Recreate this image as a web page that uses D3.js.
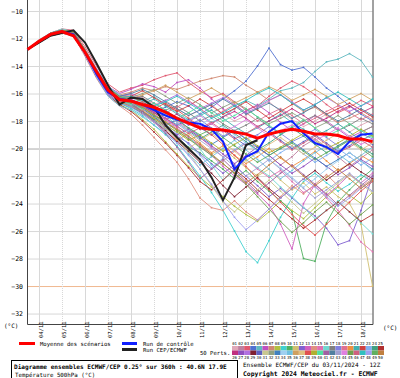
<!DOCTYPE html>
<html>
<head>
<meta charset="utf-8">
<script src="https://cdn.jsdelivr.net/npm/d3@7"></script>
<style>
  html, body { margin: 0; padding: 0; background: #fff; }
  svg { display: block; }
  text { font-family: "DejaVu Sans Mono", monospace; fill: #000; }
</style>
</head>
<body>
<div id="chart"></div>
<script>
// Forecast hours (12h steps, run 03/11 12Z)
const hours = d3.range(0, 361, 12);
const dayLabels = ["04/11", "05/11", "06/11", "07/11", "08/11", "09/11", "10/11", "11/11",
  "12/11", "13/11", "14/11", "15/11", "16/11", "17/11", "18/11"];
const dayHours = [12, 36, 60, 84, 108, 132, 156, 180, 204, 228, 252, 276, 300, 324, 348];
const yTicks = [-10, -12, -14, -16, -18, -20, -22, -24, -26, -28, -30, -32];

const meanValues = [-12.8, -12.2, -11.7, -11.5, -11.8, -13.0, -14.4, -15.75, -16.45, -16.55, -16.8,
  -17.0, -17.35, -17.8, -18.15, -18.5, -18.6, -18.65, -18.8, -18.95, -19.25, -18.95, -18.75,
  -18.6, -18.75, -18.95, -18.95, -19.05, -19.3, -19.3, -19.5];
const controlValues = [-12.8, -12.2, -11.7, -11.5, -11.7, -13.0, -14.6, -15.9, -16.4, -16.5, -16.8,
  -17.2, -17.6, -17.9, -18.1, -18.2, -18.6, -19.5, -21.5, -20.6, -20.2, -18.8, -18.2,
  -18.0, -18.9, -19.6, -19.9, -20.4, -19.5, -19.0, -18.9];
// deterministic run only goes to 240h
const cepValues = [-12.8, -12.3, -11.8, -11.6, -11.4, -12.3, -13.8, -15.4, -16.8, -16.3, -16.4,
  -17.0, -18.3, -19.2, -20.0, -20.8, -22.1, -23.75, -22.1, -19.75, -19.4];

const perts = [
  [-12.8,-12.3,-11.8,-11.6,-11.5,-12.9,-14.3,-15.6,-16.2,-16.0,-16.3,-16.8,-16.5,-17.1,-17.6,-17.2,-16.8,-17.5,-18.0,-17.6,-17.0,-16.6,-17.3,-17.9,-18.4,-18.0,-17.5,-18.2,-18.8,-18.3,-17.9],
  [-12.8,-12.2,-11.7,-11.4,-11.6,-13.1,-14.6,-15.9,-16.6,-16.9,-17.4,-18.0,-18.6,-19.4,-20.1,-20.8,-21.5,-20.9,-20.2,-19.6,-19.9,-20.5,-21.2,-20.6,-19.8,-19.3,-19.9,-20.6,-21.3,-20.7,-20.1],
  [-12.8,-12.1,-11.6,-11.3,-11.4,-12.6,-14.0,-15.3,-15.9,-15.6,-15.4,-15.0,-14.7,-14.5,-15.2,-15.8,-16.3,-16.0,-16.6,-17.2,-16.9,-16.2,-15.6,-15.1,-15.5,-16.1,-16.8,-17.4,-17.0,-16.5,-16.9],
  [-12.8,-12.3,-11.8,-11.5,-11.7,-13.0,-14.4,-15.7,-16.3,-16.6,-17.0,-17.3,-17.0,-16.6,-16.9,-17.5,-17.0,-16.4,-15.8,-15.1,-14.0,-12.7,-13.9,-14.3,-14.1,-14.8,-15.6,-16.2,-16.9,-17.5,-18.0],
  [-12.8,-12.2,-11.7,-11.5,-11.8,-13.2,-14.7,-16.0,-16.7,-17.0,-16.6,-16.2,-16.8,-17.4,-17.9,-17.5,-18.1,-17.7,-17.1,-16.5,-16.9,-16.4,-15.8,-15.6,-15.2,-14.4,-13.7,-13.5,-13.1,-13.6,-14.8],
  [-12.8,-12.2,-11.6,-11.4,-11.5,-12.8,-14.2,-15.5,-16.0,-15.7,-15.3,-15.5,-15.9,-15.2,-15.0,-15.6,-16.4,-17.1,-17.8,-17.3,-16.8,-17.4,-18.1,-18.7,-18.2,-17.6,-18.0,-18.6,-19.2,-18.8,-18.4],
  [-12.8,-12.3,-11.7,-11.5,-11.6,-12.9,-14.4,-15.6,-16.1,-15.9,-15.6,-15.8,-15.5,-15.7,-15.4,-15.1,-14.9,-14.7,-14.8,-15.4,-15.9,-16.5,-16.1,-16.7,-17.3,-17.0,-17.6,-18.1,-17.8,-17.4,-17.9],
  [-12.8,-12.2,-11.8,-11.6,-11.8,-13.2,-14.8,-16.1,-16.8,-17.2,-17.9,-18.6,-19.5,-20.4,-21.3,-22.1,-22.8,-23.5,-24.2,-24.8,-25.3,-24.6,-23.8,-24.5,-25.1,-24.3,-23.5,-22.8,-23.4,-24.0,-23.2],
  [-12.8,-12.2,-11.7,-11.5,-11.7,-13.1,-14.6,-16.0,-16.7,-17.1,-17.6,-18.3,-19.0,-19.8,-20.9,-22.0,-23.2,-24.5,-26.0,-27.5,-28.3,-26.7,-25.0,-23.6,-22.4,-21.8,-22.5,-23.1,-22.6,-21.9,-22.4],
  [-12.8,-12.3,-11.8,-11.6,-11.7,-13.0,-14.5,-15.8,-16.5,-16.8,-17.3,-17.9,-18.5,-19.2,-19.9,-20.3,-20.9,-21.5,-22.2,-21.6,-22.4,-23.1,-23.8,-24.6,-28.0,-28.2,-25.4,-23.9,-23.0,-22.2,-21.5],
  [-12.8,-12.2,-11.7,-11.4,-11.6,-13.0,-14.5,-15.8,-16.4,-16.7,-17.1,-17.6,-18.0,-18.6,-19.3,-19.8,-20.4,-20.0,-20.7,-21.4,-22.0,-21.5,-22.3,-23.0,-22.5,-23.3,-22.8,-23.5,-24.0,-25.5,-30.0],
  [-12.8,-12.3,-11.8,-11.5,-11.7,-13.1,-14.7,-16.0,-16.6,-16.9,-17.3,-17.8,-18.4,-19.1,-19.6,-20.4,-21.1,-21.8,-21.2,-22.0,-22.7,-23.5,-22.9,-23.6,-24.3,-24.9,-25.8,-27.0,-26.7,-24.5,-22.0],
  [-12.8,-12.2,-11.6,-11.4,-11.6,-12.9,-14.4,-15.7,-16.3,-16.5,-16.9,-17.4,-17.9,-18.5,-19.2,-19.8,-20.5,-21.3,-22.0,-22.6,-23.3,-24.1,-25.5,-27.3,-24.0,-22.6,-23.4,-22.7,-21.9,-22.5,-21.8],
  [-12.8,-12.3,-11.7,-11.5,-11.8,-13.3,-14.9,-16.2,-16.9,-17.5,-18.3,-19.2,-20.1,-21.0,-22.2,-23.6,-24.3,-24.5,-23.8,-24.6,-25.2,-24.4,-23.5,-22.7,-23.3,-22.6,-21.9,-22.7,-23.5,-22.8,-22.2],
  [-12.8,-12.2,-11.7,-11.5,-11.7,-13.0,-14.5,-15.9,-16.5,-16.8,-17.2,-17.7,-18.2,-18.0,-18.6,-19.2,-19.9,-20.6,-20.1,-20.8,-21.5,-22.1,-21.6,-22.4,-23.2,-22.7,-23.6,-24.5,-25.6,-26.8,-27.5],
  [-12.8,-12.1,-11.6,-11.3,-11.5,-12.8,-14.2,-15.5,-16.1,-16.3,-16.6,-17.0,-17.6,-18.3,-19.1,-20.0,-21.2,-22.3,-21.6,-20.8,-21.4,-22.0,-22.8,-23.5,-24.3,-25.1,-24.5,-23.8,-24.6,-25.4,-26.2],
  [-12.8,-12.3,-11.8,-11.6,-11.6,-12.9,-14.4,-15.7,-16.3,-16.4,-16.2,-16.7,-17.2,-16.9,-17.4,-18.0,-17.6,-18.2,-18.7,-18.3,-17.8,-18.4,-18.9,-18.5,-18.0,-17.6,-18.1,-18.7,-18.3,-17.8,-18.2],
  [-12.8,-12.2,-11.7,-11.5,-11.7,-13.1,-14.6,-15.9,-16.5,-16.7,-17.0,-17.5,-17.2,-17.8,-18.3,-17.9,-18.5,-19.1,-18.7,-19.3,-19.0,-18.4,-18.9,-19.5,-19.1,-18.6,-19.2,-19.8,-19.4,-18.9,-19.3],
  [-12.8,-12.3,-11.7,-11.4,-11.5,-12.8,-14.3,-15.6,-16.2,-16.1,-16.5,-16.9,-17.4,-17.0,-16.5,-17.1,-17.7,-17.3,-16.8,-17.4,-18.0,-17.5,-17.1,-17.6,-18.2,-17.8,-17.3,-16.9,-17.4,-17.9,-17.5],
  [-12.8,-12.2,-11.8,-11.6,-11.8,-13.2,-14.7,-16.0,-16.6,-16.9,-17.5,-18.1,-18.8,-19.4,-18.9,-19.6,-20.3,-19.8,-20.5,-21.1,-20.6,-20.0,-20.7,-21.3,-20.8,-20.2,-20.9,-21.6,-21.1,-20.5,-21.0],
  [-12.8,-12.2,-11.7,-11.5,-11.6,-12.9,-14.4,-15.7,-16.3,-16.5,-16.8,-16.4,-16.9,-17.5,-18.0,-17.6,-17.2,-17.8,-18.4,-18.9,-18.5,-18.0,-17.5,-18.1,-18.6,-19.1,-18.7,-18.2,-18.8,-19.4,-19.0],
  [-12.8,-12.3,-11.8,-11.5,-11.7,-13.0,-14.6,-15.9,-16.5,-16.2,-15.8,-16.3,-16.8,-17.3,-16.9,-16.4,-16.9,-17.5,-17.1,-16.6,-17.2,-17.8,-17.3,-16.8,-16.4,-16.9,-17.5,-17.1,-16.7,-17.2,-17.7],
  [-12.8,-12.2,-11.6,-11.4,-11.5,-12.8,-14.2,-15.5,-16.1,-16.4,-16.9,-17.5,-18.2,-18.9,-19.7,-20.5,-21.4,-20.7,-20.1,-19.5,-20.2,-20.9,-20.3,-19.8,-20.4,-21.0,-20.5,-20.0,-20.6,-21.2,-20.7],
  [-12.8,-12.3,-11.7,-11.5,-11.7,-13.1,-14.7,-16.0,-16.7,-17.0,-17.4,-17.9,-17.5,-18.1,-18.7,-19.3,-18.8,-18.3,-18.9,-19.5,-20.1,-19.6,-19.0,-18.5,-19.1,-19.7,-20.3,-19.8,-19.3,-19.9,-20.4],
  [-12.8,-12.2,-11.7,-11.6,-11.8,-13.2,-14.8,-16.1,-16.8,-17.3,-18.0,-18.8,-19.6,-20.5,-21.4,-22.4,-23.0,-22.3,-21.5,-22.2,-23.0,-23.7,-24.4,-25.1,-25.8,-25.2,-24.5,-23.9,-24.6,-25.3,-24.8],
  [-12.8,-12.2,-11.7,-11.5,-11.6,-12.9,-14.4,-15.7,-16.3,-16.6,-16.9,-17.4,-17.9,-17.5,-18.1,-18.6,-18.2,-17.7,-17.3,-17.8,-18.4,-18.0,-17.6,-17.1,-17.6,-18.2,-17.8,-17.3,-16.9,-17.4,-17.0],
  [-12.8,-12.3,-11.8,-11.6,-11.7,-13.0,-14.5,-15.8,-16.4,-16.8,-17.3,-17.8,-18.4,-19.0,-18.6,-19.2,-19.8,-20.4,-21.1,-20.5,-19.9,-20.5,-21.2,-21.8,-21.3,-20.7,-21.3,-21.9,-21.4,-20.8,-21.3],
  [-12.8,-12.2,-11.7,-11.4,-11.5,-12.8,-14.3,-15.6,-16.2,-16.0,-16.4,-16.9,-16.5,-16.1,-16.6,-17.1,-16.7,-16.3,-16.8,-17.4,-17.0,-16.5,-16.1,-16.6,-17.2,-16.8,-16.3,-16.8,-17.3,-16.9,-16.5],
  [-12.8,-12.3,-11.7,-11.5,-11.7,-13.1,-14.6,-15.9,-16.5,-16.9,-17.4,-18.0,-18.7,-19.5,-20.2,-21.0,-21.8,-22.7,-23.5,-22.8,-22.1,-22.9,-23.6,-22.9,-22.2,-21.6,-22.3,-21.7,-21.1,-21.7,-22.2],
  [-12.8,-12.2,-11.8,-11.6,-11.8,-13.2,-14.8,-16.1,-16.7,-16.5,-16.9,-17.3,-17.8,-18.3,-17.9,-18.5,-19.0,-18.6,-19.2,-19.8,-19.3,-18.8,-19.4,-20.0,-19.5,-19.0,-19.6,-20.2,-19.8,-19.2,-19.7],
  [-12.8,-12.2,-11.7,-11.5,-11.6,-12.9,-14.3,-15.6,-16.2,-16.5,-17.0,-17.6,-18.3,-19.2,-20.3,-21.5,-22.7,-23.9,-24.6,-23.8,-23.0,-22.3,-23.1,-23.9,-24.7,-24.0,-23.2,-22.5,-21.9,-22.6,-23.2],
  [-12.8,-12.3,-11.8,-11.5,-11.7,-13.0,-14.5,-15.8,-16.4,-16.3,-16.0,-15.7,-16.2,-16.7,-16.3,-16.8,-17.4,-17.0,-16.6,-17.1,-17.7,-18.2,-17.8,-17.4,-17.9,-18.5,-18.1,-17.6,-18.2,-18.8,-18.4],
  [-12.8,-12.2,-11.6,-11.4,-11.6,-12.9,-14.4,-15.7,-16.3,-16.6,-17.1,-17.7,-18.3,-17.9,-18.5,-19.1,-19.7,-19.2,-18.7,-19.3,-19.9,-20.5,-20.0,-19.5,-20.1,-20.7,-21.3,-20.8,-20.3,-20.9,-21.5],
  [-12.8,-12.2,-11.7,-11.5,-11.7,-13.1,-14.6,-15.9,-16.5,-16.8,-16.5,-17.0,-17.5,-18.1,-18.7,-18.3,-17.8,-18.4,-19.0,-19.6,-20.2,-20.8,-21.4,-22.1,-22.8,-22.2,-21.5,-20.9,-20.3,-20.9,-21.6],
  [-12.8,-12.3,-11.8,-11.6,-11.8,-13.2,-14.8,-16.2,-16.9,-17.2,-17.7,-18.3,-18.9,-19.6,-20.4,-21.2,-20.6,-20.0,-19.4,-20.1,-20.8,-21.5,-22.2,-21.6,-20.9,-20.3,-19.8,-20.4,-21.0,-20.5,-19.9],
  [-12.8,-12.2,-11.7,-11.4,-11.5,-12.8,-14.3,-15.6,-16.2,-16.4,-16.1,-15.8,-15.4,-15.9,-16.4,-16.0,-15.6,-16.1,-16.7,-16.3,-15.9,-15.5,-15.9,-16.5,-16.1,-15.7,-16.2,-16.8,-16.4,-16.0,-16.5],
  [-12.8,-12.2,-11.7,-11.5,-11.7,-13.0,-14.5,-15.8,-16.4,-16.7,-17.2,-17.8,-18.5,-19.3,-20.0,-19.4,-18.9,-19.5,-20.2,-20.9,-20.3,-19.7,-19.2,-19.8,-20.4,-19.9,-19.4,-18.9,-19.5,-20.1,-19.6],
  [-12.8,-12.3,-11.7,-11.5,-11.6,-12.9,-14.4,-15.7,-16.3,-16.2,-16.6,-17.1,-16.7,-17.2,-17.8,-18.4,-19.0,-19.7,-20.5,-21.3,-22.2,-23.0,-23.9,-24.8,-25.6,-26.3,-25.5,-24.7,-23.9,-23.1,-22.4],
  [-12.8,-12.2,-11.8,-11.6,-11.8,-13.2,-14.7,-16.0,-16.6,-16.9,-17.3,-17.8,-18.3,-18.8,-19.4,-19.0,-19.6,-20.2,-19.7,-19.2,-19.8,-20.3,-19.9,-19.4,-18.9,-19.4,-20.0,-19.6,-19.1,-18.6,-19.1],
  [-12.8,-12.2,-11.7,-11.5,-11.7,-13.0,-14.6,-15.9,-16.5,-16.8,-17.1,-16.7,-17.2,-17.8,-17.4,-16.9,-17.4,-18.0,-17.6,-17.1,-17.7,-18.3,-18.9,-18.4,-17.9,-18.5,-19.1,-18.7,-18.2,-18.7,-19.2],
  [-12.8,-12.3,-11.8,-11.5,-11.6,-12.9,-14.4,-15.7,-16.3,-16.7,-17.3,-18.0,-18.9,-19.9,-21.0,-22.2,-21.5,-20.8,-21.6,-22.4,-23.2,-22.5,-21.8,-21.2,-21.9,-22.6,-23.3,-24.1,-23.4,-22.7,-22.0],
  [-12.8,-12.2,-11.6,-11.4,-11.6,-12.9,-14.3,-15.6,-16.2,-16.0,-15.7,-16.1,-16.6,-17.1,-17.6,-17.2,-16.8,-16.4,-16.9,-17.5,-17.1,-16.7,-17.2,-17.8,-17.4,-16.9,-17.5,-18.0,-17.6,-17.1,-17.6],
  [-12.8,-12.2,-11.7,-11.5,-11.7,-13.1,-14.6,-15.9,-16.5,-16.9,-17.4,-18.0,-18.6,-18.2,-18.8,-19.4,-20.0,-20.6,-21.3,-22.0,-21.4,-20.8,-21.5,-22.2,-22.9,-23.6,-23.0,-22.4,-21.8,-22.5,-23.1],
  [-12.8,-12.3,-11.8,-11.6,-11.8,-13.2,-14.7,-16.0,-16.6,-16.4,-16.8,-17.3,-17.9,-18.4,-18.0,-17.6,-18.2,-18.8,-18.4,-17.9,-18.5,-19.1,-18.7,-18.3,-18.8,-19.4,-19.0,-18.5,-19.1,-19.7,-19.3],
  [-12.8,-12.2,-11.7,-11.4,-11.5,-12.8,-14.3,-15.6,-16.2,-16.5,-17.0,-17.6,-18.1,-18.7,-19.3,-19.9,-20.5,-21.1,-21.8,-22.6,-23.5,-24.4,-25.3,-26.1,-25.4,-24.6,-23.9,-24.7,-25.5,-24.8,-24.1],
  [-12.8,-12.2,-11.7,-11.5,-11.7,-13.0,-14.5,-15.8,-16.4,-16.6,-16.9,-17.3,-17.8,-18.4,-18.9,-18.5,-18.1,-18.7,-19.3,-18.9,-18.4,-18.9,-19.5,-20.1,-19.6,-19.1,-19.7,-20.3,-19.9,-19.4,-19.9],
  [-12.8,-12.3,-11.7,-11.5,-11.6,-12.9,-14.4,-15.7,-16.3,-16.2,-16.5,-16.9,-16.6,-16.2,-16.7,-17.2,-17.8,-17.4,-16.9,-16.5,-16.0,-15.6,-16.1,-16.7,-17.2,-16.8,-16.3,-15.9,-16.4,-16.9,-16.4],
  [-12.8,-12.2,-11.8,-11.6,-11.8,-13.2,-14.8,-16.1,-16.7,-17.0,-17.5,-18.1,-18.8,-19.6,-20.5,-21.5,-22.6,-23.8,-25.0,-25.9,-25.2,-24.4,-23.6,-22.9,-22.2,-22.8,-23.5,-24.2,-23.6,-22.9,-22.3],
  [-12.8,-12.2,-11.7,-11.5,-11.7,-13.1,-14.6,-15.9,-16.5,-16.7,-16.4,-16.9,-17.4,-17.9,-18.5,-19.0,-18.6,-19.2,-19.8,-20.4,-21.0,-20.5,-20.0,-19.6,-20.2,-20.8,-20.3,-19.9,-19.4,-20.0,-20.6],
  [-12.8,-12.2,-11.6,-11.4,-11.6,-12.9,-14.4,-15.7,-16.3,-16.6,-17.0,-17.5,-18.1,-18.6,-19.1,-19.7,-20.4,-21.1,-21.8,-22.5,-21.9,-21.2,-20.6,-21.3,-22.0,-22.7,-22.1,-21.5,-22.2,-22.9,-22.3]
];

const pertColors = [
  "#e0a8b8", "#c080a0", "#e05870", "#5070d0", "#60b8c0", "#c050c0", "#d08870", "#b0c040",
  "#40d0d0", "#50b060", "#d0c070", "#8060d0", "#d060c0", "#e09080", "#e070b0", "#70d8d0",
  "#808080", "#8080e0", "#e07090", "#f09040", "#40b0b0", "#d04040", "#80b0f0", "#40a080",
  "#b03030", "#c03080", "#9050c0", "#b070e0", "#802030", "#6060c0", "#c8c890", "#90a080",
  "#4080c0", "#a0d0f0", "#70c0e0", "#d0a060", "#e0c080", "#e05050", "#b0b030", "#50e0a0",
  "#a060a0", "#5080a0", "#a0a0d0", "#e080e0", "#70a050", "#d06080", "#30c0c0", "#a0a0f0",
  "#60b060", "#c08040"
];

// Set up
const W = 400, H = 378;
const xScale = d3.scaleLinear().domain([0, 360]).range([27.5, 372.5]);
const yScale = d3.scaleLinear().domain([-32.76, -9.2]).range([324, 0]);

const svg = d3.select("#chart").append("svg").attr("width", W).attr("height", H);
svg.append("rect").attr("width", W).attr("height", H).attr("fill", "#fff");

// Grid
const gGrid = svg.append("g");
gGrid.selectAll(".hgrid")
  .data(yTicks)
  .join("line")
  .attr("x1", 27.5).attr("x2", 372.5)
  .attr("y1", (d) => yScale(d) + 0.5).attr("y2", (d) => yScale(d) + 0.5)
  .attr("stroke", (d) => (d === -30 ? "#f0b890" : d === -20 ? "#aaaaaa" : "#d8d8d8"))
  .attr("stroke-dasharray", (d) => (d === -12 ? "1,1" : null));
gGrid.selectAll(".vgrid")
  .data(dayHours)
  .join("line")
  .attr("x1", (d) => Math.round(xScale(d)) + 0.5).attr("x2", (d) => Math.round(xScale(d)) + 0.5)
  .attr("y1", 0).attr("y2", 324)
  .attr("stroke", "#d8d8d8")
  .attr("stroke-dasharray", (d, i) => (i % 2 ? "1,1" : null));

// Axes frame
svg.append("line").attr("x1", 27.5).attr("x2", 27.5).attr("y1", 0).attr("y2", 324.5).attr("stroke", "#444");
svg.append("line").attr("x1", 27.5).attr("x2", 373).attr("y1", 324.5).attr("y2", 324.5).attr("stroke", "#444");
svg.append("line").attr("x1", 373).attr("x2", 373).attr("y1", 0).attr("y2", 324.5).attr("stroke", "#444");

// Y labels
svg.selectAll(".ylab")
  .data(yTicks)
  .join("text")
  .attr("x", 23).attr("y", (d) => yScale(d) + 2.5)
  .attr("text-anchor", "end")
  .attr("font-size", "6.5px")
  .text((d) => "\u2212" + Math.abs(d));

// X labels (rotated)
svg.selectAll(".xlab")
  .data(dayHours)
  .join("text")
  .attr("transform", (d) => `translate(${xScale(d) + 4},338) rotate(-90)`)
  .attr("font-size", "5.5px")
  .text((d, i) => dayLabels[i]);

svg.append("text").attr("x", 4).attr("y", 328).attr("font-size", "6px").text("(\u00b0C)");
svg.append("text").attr("x", 383).attr("y", 330).attr("font-size", "6px").text("(\u00b0C)");

// Lines
const line = d3.line()
  .x((d, i) => xScale(hours[i]))
  .y((d) => yScale(d));

const gPerts = svg.append("g").attr("fill", "none");
gPerts.selectAll("path")
  .data(perts)
  .join("path")
  .attr("stroke", (d, i) => pertColors[i])
  .attr("stroke-width", 0.9)
  .attr("d", line);
const gDots = svg.append("g");
perts.forEach((p, i) => {
  gDots.selectAll(null)
    .data(p.slice(9))
    .join("rect")
    .attr("x", (d, j) => xScale(hours[j + 9]) - 0.8)
    .attr("y", (d) => yScale(d) - 0.8)
    .attr("width", 1.6).attr("height", 1.6)
    .attr("fill", pertColors[i]);
});

svg.append("path").datum(cepValues).attr("fill", "none").attr("stroke", "#222").attr("stroke-width", 2).attr("d", line);
svg.append("path").datum(controlValues).attr("fill", "none").attr("stroke", "#1020ff").attr("stroke-width", 2).attr("d", line);
svg.append("path").datum(meanValues).attr("fill", "none").attr("stroke", "#ff0000").attr("stroke-width", 3).attr("d", line);

// Legend
const gLeg = svg.append("g").attr("font-size", "5.6px");
gLeg.append("line").attr("x1", 19).attr("x2", 35).attr("y1", 343.5).attr("y2", 343.5).attr("stroke", "#ff0000").attr("stroke-width", 3);
gLeg.append("text").attr("x", 40).attr("y", 345.5).text("Moyenne des sc\u00e9narios");
gLeg.append("line").attr("x1", 122).attr("x2", 137).attr("y1", 343.5).attr("y2", 343.5).attr("stroke", "#1020ff").attr("stroke-width", 3);
gLeg.append("text").attr("x", 143).attr("y", 345.5).text("Run de contr\u00f4le");
gLeg.append("line").attr("x1", 122).attr("x2", 137).attr("y1", 349.5).attr("y2", 349.5).attr("stroke", "#222").attr("stroke-width", 3);
gLeg.append("text").attr("x", 143).attr("y", 351.5).text("Run CEP/ECMWF");
gLeg.append("text").attr("x", 200).attr("y", 355).text("50 Perts.");

// Member colour grid
const cellW = 6.08;
const gCells = svg.append("g").attr("font-size", "4px");
gCells.selectAll("rect")
  .data(pertColors)
  .join("rect")
  .attr("x", (d, i) => 232 + (i % 25) * cellW)
  .attr("y", (d, i) => (i < 25 ? 346 : 350.5))
  .attr("width", cellW).attr("height", 4.5)
  .attr("fill", (d) => d);
gCells.selectAll("text")
  .data(pertColors)
  .join("text")
  .attr("x", (d, i) => 232 + (i % 25) * cellW + 0.2)
  .attr("y", (d, i) => (i < 25 ? 345.2 : 359))
  .text((d, i) => d3.format("02d")(i + 1));

// Footer
svg.append("rect").attr("x", 11.5).attr("y", 360.5).attr("width", 226).attr("height", 20)
  .attr("fill", "none").attr("stroke", "#000");
svg.append("text").attr("x", 14).attr("y", 368.5).attr("font-size", "6.1px").attr("font-weight", "bold")
  .text("Diagramme ensembles ECMWF/CEP 0.25\u00b0 sur 360h : 40.6N 17.9E");
svg.append("text").attr("x", 15).attr("y", 376.5).attr("font-size", "5.8px")
  .text("Temp\u00e9rature 500hPa (\u00b0C)");
svg.append("text").attr("x", 243).attr("y", 366.5).attr("font-size", "6px")
  .text("Ensemble ECMWF/CEP du 03/11/2024 - 12Z");
svg.append("text").attr("x", 243).attr("y", 376).attr("font-size", "6.4px").attr("font-weight", "bold")
  .text("Copyright 2024 Meteociel.fr - ECMWF");
</script>
</body>
</html>
